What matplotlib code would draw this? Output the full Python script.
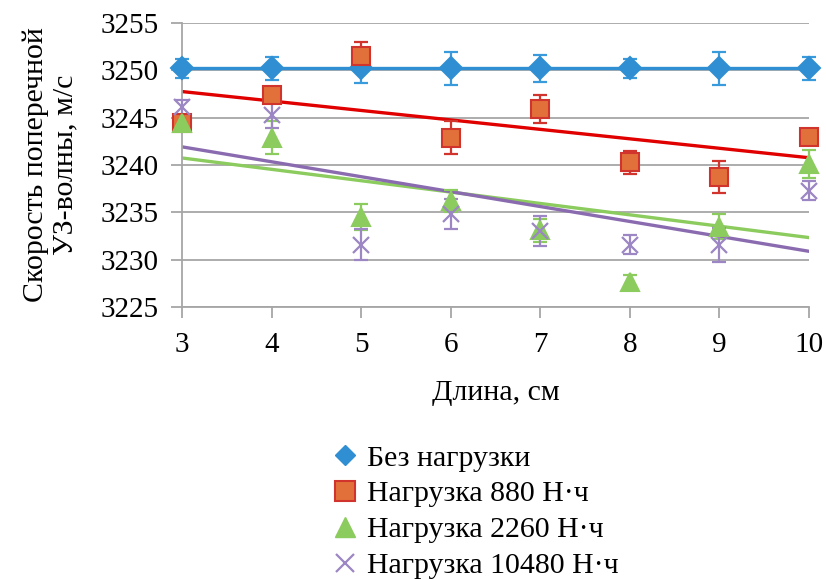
import matplotlib
matplotlib.use("Agg")
import matplotlib.pyplot as plt
import numpy as np
from matplotlib.lines import Line2D

plt.rcParams['font.family'] = ['Liberation Serif', 'DejaVu Serif']

length_cm = [3, 4, 5, 6, 7, 8, 9, 10]

no_load = [3250.2, 3250.2, 3250.2, 3250.2, 3250.2, 3250.2, 3250.2, 3250.2]
no_load_err = [1.0, 1.2, 1.5, 1.7, 1.4, 1.0, 1.7, 1.2]

load_880 = [3244.4, 3247.4, 3251.5, 3242.9, 3245.9, 3240.3, 3238.7, 3243.0]
load_880_err = [0.8, 0.8, 1.5, 1.7, 1.5, 1.2, 1.7, 0.8]

load_2260 = [3244.4, 3242.9, 3234.5, 3236.2, 3233.1, 3227.6, 3233.5, 3240.1]
load_2260_err = [0.8, 1.7, 1.4, 1.2, 1.2, 0.8, 1.3, 1.5]

load_10480 = [3246.1, 3245.3, 3231.6, 3234.8, 3233.0, 3231.6, 3231.5, 3237.3]
load_10480_err = [0.8, 1.4, 1.6, 1.6, 1.6, 1.0, 1.8, 1.0]

labels = ["Без нагрузки", "Нагрузка 880 Н·ч", "Нагрузка 2260 Н·ч", "Нагрузка 10480 Н·ч"]
yticks = [3225, 3230, 3235, 3240, 3245, 3250, 3255]

fig = plt.figure(figsize=(8.26, 5.79), dpi=100)
ax = fig.add_axes([0.2203, 0.4698, 0.759, 0.4905])

x = np.array(length_cm)

series = [
    (no_load, no_load_err, 'D', '#2F8FD2', '#2F8FD2', '#3A9BDC', '#2F8FD2', 11),
    (load_880, load_880_err, 's', '#E2703A', '#D0342C', '#D0342C', '#E00000', 13),
    (load_2260, load_2260_err, '^', '#8CCB5E', '#8CCB5E', '#8CCB5E', '#8CCB5E', 13),
    (load_10480, load_10480_err, 'x', '#9C86C4', '#9C86C4', '#9C86C4', '#8A6BB0', 12),
]

# trendlines
for vals, err, m, fc, ec, errc, linec, ms in series:
    coef = np.polyfit(x, vals, 1)
    xx = np.array([x.min(), x.max()])
    ax.plot(xx, np.polyval(coef, xx), color=linec, lw=2.4, zorder=2)

for vals, err, m, fc, ec, errc, linec, ms in series:
    eb = ax.errorbar(x, vals, yerr=err, fmt='none', ecolor=errc, elinewidth=1.6,
                     capsize=5, capthick=1.6, zorder=3)
    for art in eb.lines[1] + eb.lines[2]:
        art.set_clip_on(False)
    ax.plot(x, vals, linestyle='none', marker=m, markersize=ms,
            markerfacecolor=fc, markeredgecolor=ec,
            markeredgewidth=1.5 if m != 'x' else 1.6, zorder=4, clip_on=False)

ax.set_xlim(3, 10)
ax.set_ylim(3225, 3255)
ax.set_yticks(yticks)
ax.set_yticklabels([str(v) for v in yticks])
ax.set_xticks(length_cm)
ax.set_xticklabels([str(v) for v in length_cm])
ax.yaxis.grid(True, color='#A6A6A6', lw=1.3)
ax.set_axisbelow(True)
for s in ['top', 'right']:
    ax.spines[s].set_visible(False)
for s in ['left', 'bottom']:
    ax.spines[s].set_color('#A6A6A6')
    ax.spines[s].set_linewidth(1.3)
ax.tick_params(axis='both', colors='#A6A6A6', labelcolor='black', labelsize=21,
               length=8, width=1.3)
ax.tick_params(axis='x', pad=10)
ax.tick_params(axis='y', pad=9)
ax.set_xlabel("Длина, см", fontsize=21.5, labelpad=16)
ax.set_ylabel("Скорость поперечной\nУЗ-волны, м/с", fontsize=21.5, labelpad=16,
              linespacing=1.15)

handles = [
    Line2D([], [], linestyle='none', marker='D', markersize=10, markerfacecolor='#2F8FD2',
           markeredgecolor='#2F8FD2'),
    Line2D([], [], linestyle='none', marker='s', markersize=14, markerfacecolor='#E2703A',
           markeredgecolor='#D0342C', markeredgewidth=1.5),
    Line2D([], [], linestyle='none', marker='^', markersize=14, markerfacecolor='#8CCB5E',
           markeredgecolor='#8CCB5E'),
    Line2D([], [], linestyle='none', marker='x', markersize=13, markeredgecolor='#9C86C4',
           markeredgewidth=1.6),
]
fig.legend(handles, labels, loc='upper left', bbox_to_anchor=(0.401, 0.232),
           frameon=False, fontsize=21.5, handlelength=0.9, handletextpad=0.3,
           labelspacing=0.3, borderpad=0, borderaxespad=0)

fig.savefig("out.png", dpi=100)
